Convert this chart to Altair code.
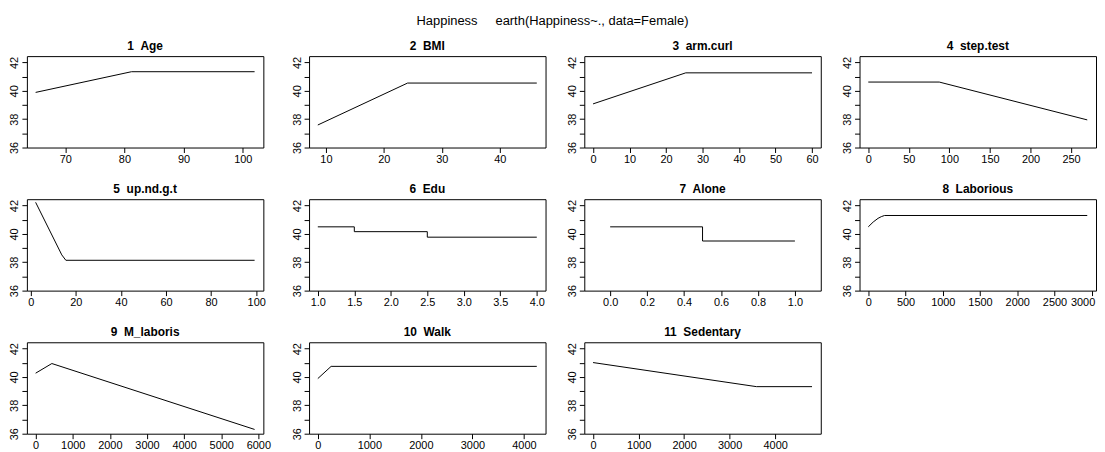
import altair as alt
import pandas as pd

NB = "\u00a0"

# ---- data (x, fitted Happiness) ----
age_x = [65, 81.2, 102]
age_y = [39.89, 41.35, 41.35]

bmi_x = [8.6, 24.1, 46.4]
bmi_y = [37.59, 40.55, 40.55]

arm_x = [0, 25.4, 60]
arm_y = [39.08, 41.27, 41.27]

step_x = [0, 87.5, 270]
step_y = [40.62, 40.62, 37.95]

upnd_x = [2.2, 13.8, 15.6, 99.3]
upnd_y = [42.23, 38.52, 38.14, 38.14]

edu_x = [1.0, 1.5, 2.5, 4.0]
edu_y = [40.50, 40.16, 39.77, 39.77]

alone_x = [0.0, 0.5, 1.0]
alone_y = [40.50, 39.50, 39.50]

lab_x = [0, 66, 131, 175, 218, 2940]
lab_y = [40.50, 40.84, 41.10, 41.22, 41.30, 41.30]

mlab_x = [0, 437, 5900]
mlab_y = [40.27, 40.95, 36.30]

walk_x = [0, 258, 4250]
walk_y = [39.89, 40.75, 40.75]

sed_x = [0, 3590, 4810]
sed_y = [41.02, 39.32, 39.32]

panels = [
    ("1  Age", age_x, age_y, [70, 80, 90, 100], "d", "linear", None),
    ("2  BMI", bmi_x, bmi_y, [10, 20, 30, 40], "d", "linear", None),
    ("3  arm.curl", arm_x, arm_y, [0, 10, 20, 30, 40, 50, 60], "d", "linear", None),
    ("4  step.test", step_x, step_y, [0, 50, 100, 150, 200, 250], "d", "linear", None),
    ("5  up.nd.g.t", upnd_x, upnd_y, [0, 20, 40, 60, 80, 100], "d", "linear", None),
    ("6  Edu", edu_x, edu_y, [1.0, 1.5, 2.0, 2.5, 3.0, 3.5, 4.0], ".1f", "step-after", None),
    ("7  Alone", alone_x, alone_y, [0.0, 0.2, 0.4, 0.6, 0.8, 1.0], ".1f", "step-after", [-0.14, 1.14]),
    ("8  Laborious", lab_x, lab_y, [0, 500, 1000, 1500, 2000, 2500, 3000], "d", "linear", None),
    ("9  M_laboris", mlab_x, mlab_y, [0, 1000, 2000, 3000, 4000, 5000, 6000], "d", "linear", None),
    ("10  Walk", walk_x, walk_y, [0, 1000, 2000, 3000, 4000], "d", "linear", None),
    ("11  Sedentary", sed_x, sed_y, [0, 1000, 2000, 3000, 4000], "d", "linear", None),
]

y_ticks = [36, 37, 38, 39, 40, 41, 42]
W, H = 238, 92


def panel(idx, title, xs, ys, xticks, fmt, interp, dom):
    df = pd.DataFrame({"x": xs, "y": ys})
    if dom is None:
        r = max(xs) - min(xs)
        dom = [min(xs) - 0.04 * r, max(xs) + 0.04 * r]
    xaxis = dict(values=xticks, format=fmt, title=None)
    if idx == 7:  # right-most panel whose last label would leave the page
        xaxis["labelFlush"] = 8
        xaxis["labelFlushOffset"] = 3
    return (
        alt.Chart(df)
        .mark_line(color="black", strokeWidth=1, interpolate=interp, clip=True)
        .encode(
            x=alt.X(
                "x:Q",
                scale=alt.Scale(domain=dom, nice=False, zero=False),
                axis=alt.Axis(**xaxis),
            ),
            y=alt.Y(
                "y:Q",
                scale=alt.Scale(domain=[36, 42.45], nice=False, zero=False),
                axis=alt.Axis(
                    values=y_ticks,
                    title=None,
                    labelAngle=270,
                    labelAlign="center",
                    labelBaseline="bottom",
                    labelPadding=2,
                    labelExpr="datum.value % 2 == 0 ? datum.label : ''",
                ),
            ),
        )
        .properties(
            width=W,
            height=H,
            title=alt.TitleParams(title.replace(" ", NB), fontSize=12, fontWeight="bold", offset=3),
        )
    )


charts = [panel(i, *p) for i, p in enumerate(panels)]

chart = (
    alt.concat(*charts, columns=4, spacing={"row": 17, "column": 19})
    .properties(
        title=alt.TitleParams(
            ("Happiness     earth(Happiness~., data=Female)").replace(" ", NB),
            anchor="middle",
            fontSize=13,
            fontWeight="normal",
            offset=12,
        ),
        padding={"left": 0, "top": 5, "right": 0, "bottom": 0},
    )
    .configure_view(stroke="black", strokeWidth=1)
    .configure_axis(
        grid=False,
        domain=False,
        tickColor="black",
        tickSize=5,
        labelColor="black",
        labelFont="Liberation Sans",
        labelFontSize=11,
        labelPadding=1,
        labelFlush=False,
        labelOverlap=False,
    )
    .configure_title(font="Liberation Sans", color="black")
)

chart.save("out.html", embed_options={"renderer": "svg", "actions": False})
